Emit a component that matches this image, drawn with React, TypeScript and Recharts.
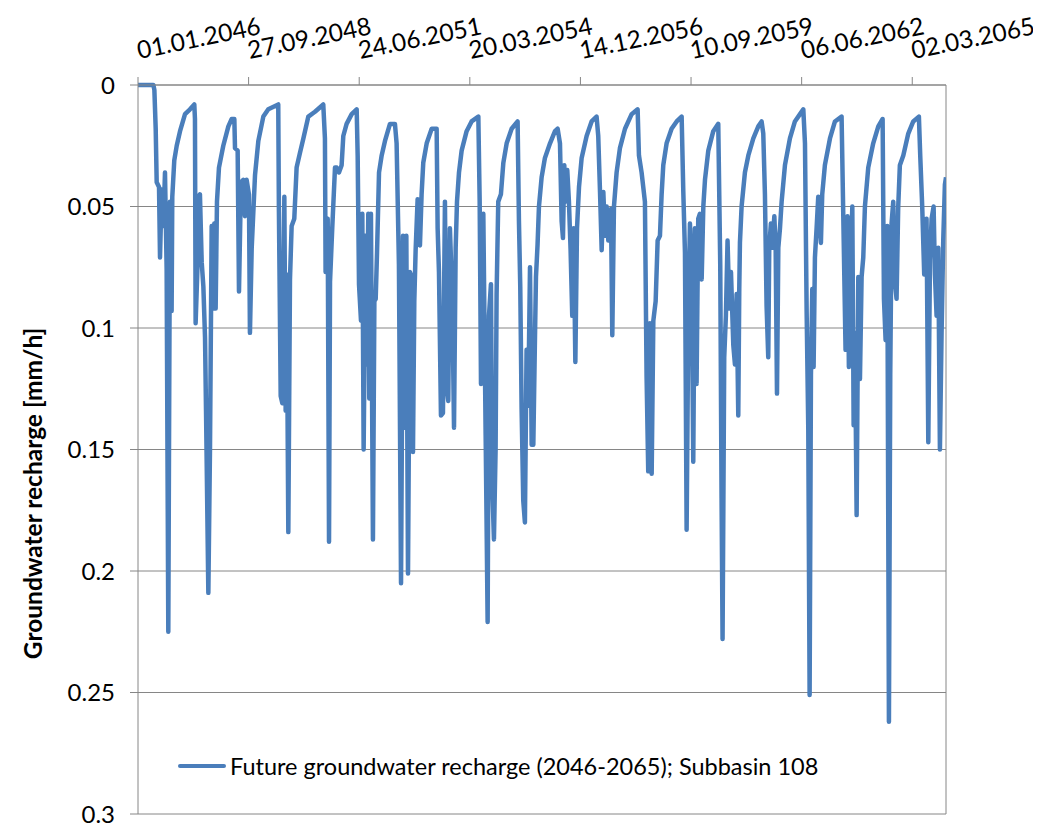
import React from "react"
import { LineChart, Line, XAxis, YAxis, CartesianGrid, ReferenceLine, Legend } from "recharts"

// day offsets from 01.01.2046, recharge in mm/h
const RECHARGE_2046_2050: [number, number][] = [
  [0, 0], [139, 0], [148, 0.002], [160, 0.018], [169, 0.04], [190, 0.042], [199, 0.071], [214, 0.043],
  [229, 0.058], [244, 0.036], [259, 0.076], [274, 0.225], [289, 0.048], [304, 0.093], [310, 0.046],
  [328, 0.031], [350, 0.025], [380, 0.019], [425, 0.012], [470, 0.01], [509, 0.008], [515, 0.014],
  [521, 0.098], [539, 0.073], [545, 0.046], [560, 0.045], [576, 0.073], [591, 0.083], [606, 0.104],
  [615, 0.134], [636, 0.209], [651, 0.149], [666, 0.058], [681, 0.092], [690, 0.057], [702, 0.092],
  [714, 0.048], [732, 0.034], [771, 0.025], [817, 0.017], [847, 0.014], [871, 0.014], [877, 0.026],
  [901, 0.027], [913, 0.085], [931, 0.04], [952, 0.039], [967, 0.054], [982, 0.039], [1003, 0.045],
  [1012, 0.102], [1028, 0.067], [1058, 0.037], [1088, 0.023], [1133, 0.013], [1178, 0.01], [1268, 0.008],
  [1274, 0.052], [1290, 0.128], [1305, 0.131], [1323, 0.046], [1335, 0.134], [1344, 0.078], [1359, 0.184],
  [1374, 0.08], [1389, 0.058], [1413, 0.055], [1434, 0.034], [1464, 0.028], [1495, 0.022], [1540, 0.013],
  [1600, 0.011], [1675, 0.008], [1690, 0.022], [1696, 0.077], [1715, 0.055], [1727, 0.188], [1736, 0.081],
  [1757, 0.058], [1781, 0.034], [1796, 0.034], [1817, 0.036],
]

const RECHARGE_2051_2055: [number, number][] = [
  [1841, 0.033], [1856, 0.021], [1886, 0.016], [1932, 0.012], [1977, 0.01], [1986, 0.029], [1998, 0.082],
  [2016, 0.097], [2028, 0.053], [2040, 0.15], [2058, 0.062], [2067, 0.115], [2082, 0.053], [2091, 0.129],
  [2106, 0.053], [2124, 0.187], [2137, 0.089], [2149, 0.088], [2161, 0.069], [2179, 0.036], [2203, 0.029],
  [2233, 0.023], [2278, 0.016], [2323, 0.016], [2338, 0.024], [2359, 0.074], [2378, 0.205], [2396, 0.062],
  [2414, 0.141], [2426, 0.062], [2441, 0.201], [2459, 0.077], [2474, 0.079], [2486, 0.151], [2498, 0.089],
  [2510, 0.068], [2528, 0.047], [2549, 0.066], [2564, 0.045], [2579, 0.032], [2610, 0.024], [2655, 0.018],
  [2700, 0.018], [2709, 0.059], [2721, 0.077], [2739, 0.136], [2757, 0.135], [2775, 0.048], [2790, 0.124],
  [2805, 0.13], [2820, 0.059], [2842, 0.089], [2857, 0.141], [2872, 0.067], [2884, 0.048], [2902, 0.036],
  [2926, 0.027], [2971, 0.019], [3016, 0.015], [3077, 0.013], [3089, 0.048], [3101, 0.123], [3122, 0.053],
  [3143, 0.144], [3161, 0.221], [3173, 0.095], [3191, 0.082], [3203, 0.165], [3218, 0.187], [3233, 0.15],
  [3242, 0.086], [3257, 0.048], [3281, 0.045], [3303, 0.032], [3333, 0.024], [3378, 0.018], [3432, 0.015],
  [3444, 0.056], [3456, 0.083], [3468, 0.133], [3483, 0.171], [3498, 0.18], [3513, 0.109], [3528, 0.132],
  [3544, 0.075], [3559, 0.148], [3574, 0.148], [3589, 0.104], [3598, 0.079], [3612, 0.066], [3625, 0.05],
]

const RECHARGE_2056_2060: [number, number][] = [
  [3649, 0.038], [3679, 0.03], [3725, 0.024], [3770, 0.019], [3794, 0.018], [3815, 0.024], [3830, 0.056],
  [3842, 0.063], [3854, 0.033], [3866, 0.048], [3881, 0.035], [3896, 0.048], [3911, 0.068], [3926, 0.095],
  [3939, 0.059], [3954, 0.114], [3969, 0.059], [3987, 0.042], [4011, 0.03], [4056, 0.021], [4101, 0.015],
  [4146, 0.013], [4161, 0.021], [4177, 0.044], [4192, 0.068], [4207, 0.044], [4222, 0.062], [4237, 0.05],
  [4252, 0.064], [4276, 0.051], [4288, 0.103], [4303, 0.05], [4327, 0.036], [4357, 0.026], [4403, 0.018],
  [4463, 0.012], [4517, 0.01], [4529, 0.029], [4553, 0.036], [4583, 0.048], [4598, 0.12], [4613, 0.159],
  [4628, 0.098], [4644, 0.16], [4659, 0.097], [4680, 0.089], [4698, 0.064], [4719, 0.062], [4734, 0.045],
  [4749, 0.033], [4779, 0.024], [4824, 0.018], [4870, 0.015], [4915, 0.013], [4930, 0.044], [4945, 0.069],
  [4960, 0.183], [4975, 0.097], [4990, 0.057], [5005, 0.074], [5020, 0.155], [5035, 0.059], [5050, 0.123],
  [5065, 0.055], [5080, 0.053], [5096, 0.08], [5111, 0.05], [5126, 0.039], [5156, 0.027], [5201, 0.019],
  [5246, 0.016], [5264, 0.074], [5276, 0.17], [5285, 0.228], [5300, 0.112], [5315, 0.095], [5330, 0.064],
  [5346, 0.092], [5361, 0.077], [5382, 0.107], [5397, 0.115], [5412, 0.086], [5427, 0.136], [5436, 0.084],
  [5442, 0.065], [5457, 0.05],
]

const RECHARGE_2061_2065: [number, number][] = [
  [5487, 0.036], [5518, 0.029], [5563, 0.022], [5608, 0.017], [5638, 0.015], [5653, 0.02], [5668, 0.045],
  [5683, 0.091], [5698, 0.112], [5707, 0.067], [5722, 0.057], [5734, 0.067], [5753, 0.054], [5765, 0.067],
  [5777, 0.127], [5789, 0.067], [5804, 0.059], [5819, 0.048], [5849, 0.033], [5894, 0.022], [5939, 0.015],
  [5985, 0.012], [6015, 0.01], [6030, 0.024], [6045, 0.093], [6060, 0.142], [6072, 0.251], [6084, 0.119],
  [6096, 0.084], [6108, 0.116], [6120, 0.071], [6135, 0.059], [6150, 0.046], [6174, 0.065], [6186, 0.045],
  [6210, 0.033], [6256, 0.022], [6301, 0.015], [6361, 0.013], [6376, 0.053], [6397, 0.109], [6415, 0.054],
  [6427, 0.116], [6442, 0.078], [6458, 0.05], [6470, 0.14], [6482, 0.102], [6497, 0.177], [6512, 0.079],
  [6527, 0.121], [6542, 0.079], [6557, 0.071], [6572, 0.05], [6602, 0.034], [6647, 0.024], [6693, 0.017],
  [6732, 0.014], [6744, 0.088], [6759, 0.105], [6774, 0.058], [6789, 0.262], [6801, 0.119], [6813, 0.057],
  [6828, 0.048], [6843, 0.081], [6858, 0.088], [6873, 0.05], [6888, 0.033], [6919, 0.029], [6964, 0.02],
  [7009, 0.015], [7060, 0.013], [7072, 0.029], [7090, 0.05], [7108, 0.078], [7129, 0.055], [7145, 0.147],
  [7160, 0.072], [7175, 0.055], [7193, 0.05], [7205, 0.078], [7220, 0.095], [7235, 0.067], [7250, 0.15],
  [7265, 0.102], [7280, 0.064], [7295, 0.041], [7305, 0.038],
]

const X_TICKS = [0, 1000, 2000, 3000, 4000, 5000, 6000, 7000]
const Y_TICKS = [0, 0.05, 0.1, 0.15, 0.2, 0.25, 0.3]
const SERIES_NAME = "Future groundwater recharge (2046-2065); Subbasin 108"
const Y_TITLE = "Groundwater recharge [mm/h]"

const START = Date.UTC(2046, 0, 1)
const LINE_COLOR = "#4A7EBB"
const GRID = "#868686"
const FONT = "Lato, 'Open Sans', sans-serif"

const data = [...RECHARGE_2046_2050, ...RECHARGE_2051_2055, ...RECHARGE_2056_2060, ...RECHARGE_2061_2065]
  .map(([day, v]) => ({ day, recharge: v }))

function fmtDate(day: number) {
  const d = new Date(START + day * 86400000)
  const p = (n: number) => String(n).padStart(2, "0")
  return `${p(d.getUTCDate())}.${p(d.getUTCMonth() + 1)}.${d.getUTCFullYear()}`
}

function DateTick(props: any) {
  const { x, y, payload } = props
  return (
    <text transform={`translate(${x + 1},${y - 16}) rotate(-11.5)`} fontFamily={FONT} fontSize={24.5} fill="#000">
      {fmtDate(payload.value)}
    </text>
  )
}

function YTitle(props: any) {
  const vb = props.viewBox || { x: 0, y: 77, width: 130, height: 729 }
  const cx = vb.x + 24
  const cy = vb.y + vb.height / 2 + 44
  return (
    <text transform={`translate(${cx},${cy}) rotate(-90)`} textAnchor="middle" dominantBaseline="central"
      fontFamily={FONT} fontSize={24.5} fontWeight="bold" fill="#000">
      {Y_TITLE}
    </text>
  )
}

function LegendBox() {
  return (
    <div style={{ display: "flex", alignItems: "center", fontFamily: FONT, fontSize: 23.5, color: "#000", whiteSpace: "nowrap" }}>
      <span style={{ display: "inline-block", width: 48, height: 4, background: LINE_COLOR, marginRight: 4, borderRadius: 2 }} />
      <span>{SERIES_NAME}</span>
    </div>
  )
}

export default function App() {
  return (
    <LineChart width={1033} height={815} data={data} margin={{ top: 17, right: 95, bottom: 9, left: 0 }}>
      <CartesianGrid vertical={false} stroke={GRID} strokeWidth={1} />
      <XAxis
        type="number"
        dataKey="day"
        orientation="top"
        height={60}
        domain={[0, 7305]}
        ticks={X_TICKS}
        allowDataOverflow
        axisLine={{ stroke: GRID }}
        tickLine={{ stroke: GRID }}
        tickSize={8}
        tick={<DateTick />}
        interval={0}
      />
      <YAxis
        type="number"
        reversed
        domain={[0, 0.3]}
        ticks={Y_TICKS}
        width={130}
        axisLine={{ stroke: GRID }}
        tickLine={{ stroke: GRID }}
        tickSize={8}
        tickMargin={15}
        tick={{ fontFamily: FONT, fontSize: 24, fill: "#000" }}
        tickFormatter={(v: number) => String(+v.toFixed(2))}
        label={<YTitle />}
        interval={0}
      />
      <ReferenceLine x={7305} stroke={GRID} />
      <Line
        type="linear"
        dataKey="recharge"
        name={SERIES_NAME}
        stroke={LINE_COLOR}
        strokeWidth={4.5}
        strokeLinejoin="round"
        dot={false}
        isAnimationActive={false}
      />
      <Legend
        layout="horizontal"
        verticalAlign="middle"
        align="center"
        content={() => <LegendBox />}
        wrapperStyle={{ left: 170, top: 744, width: "auto" }}
      />
    </LineChart>
  )
}
